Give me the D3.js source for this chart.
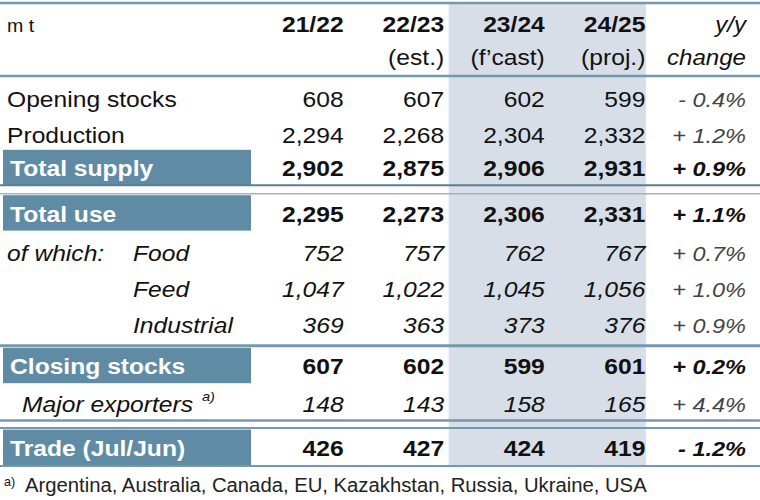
<!DOCTYPE html>
<html>
<head>
<meta charset="utf-8">
<script src="https://cdn.jsdelivr.net/npm/d3@7"></script>
<style>
  body { margin: 0; background: #fff; }
  text { font-family: "Liberation Sans", Arial, sans-serif; fill: #111; }
</style>
</head>
<body>
<svg id="table" width="760" height="500"></svg>
<script>
// column headers
var seasons = ["21/22", "22/23", "23/24", "24/25"],
    seasonNotes = ["", "(est.)", "(f\u2019cast)", "(proj.)"];

// rows
var rowLabels = ["Opening stocks", "Production", "Total supply", "Total use",
                 "Food", "Feed", "Industrial", "Closing stocks",
                 "Major exporters", "Trade (Jul/Jun)"];

var v2122 = [608, 2294, 2902, 2295, 752, 1047, 369, 607, 148, 426],
    v2223 = [607, 2268, 2875, 2273, 757, 1022, 363, 602, 143, 427],
    v2324 = [602, 2304, 2906, 2306, 762, 1045, 373, 599, 158, 424],
    v2425 = [599, 2332, 2931, 2331, 767, 1056, 376, 601, 165, 419],
    yoyChange = [-0.4, 1.2, 0.9, 1.1, 0.7, 1.0, 0.9, 0.2, 4.4, -1.2];

var footnote = "Argentina, Australia, Canada, EU, Kazakhstan, Russia, Ukraine, USA";

// how each row is drawn
var kind = ["plain", "plain", "total", "total", "sub", "sub", "sub", "total", "ital", "total"],
    gapBefore = [0, 0, 0, 9, 0, 0, 0, 7, 0, 9],
    baseShift = {plain: 31, total: 27.5, sub: 30, ital: 29};

var svg = d3.select("#table"),
    blue = "#5f8ba5",
    rule = "#7498ad",
    shade = "#d7dee7",
    sx = 1.12,
    rowH = 36.4,
    headTop = 76;

var values = [v2122, v2223, v2324, v2425];

var x = d3.scaleBand()
    .domain(["s0", "s1", "s2", "s3", "yoy"])
    .range([247, 750]);

var yi = d3.scaleLinear().domain([0, 1]).range([headTop, headTop + rowH]);
var offset = d3.cumsum(gapBefore);
function rowTop(i) { return yi(i) + offset[i]; }
var tableBottom = rowTop(rowLabels.length - 1) + rowH + 1;

var fmt = d3.format(","),
    pct = function(v) { return (v < 0 ? "- " : "+ ") + d3.format(".1f")(Math.abs(v)) + "%"; };

// shaded forecast columns
svg.append("rect")
    .attr("x", x("s2") + 0.5)
    .attr("y", 3)
    .attr("width", x("s3") + x.bandwidth() - x("s2") - 4)
    .attr("height", tableBottom - 3)
    .attr("fill", shade);

// blue label boxes
var boxRows = d3.range(rowLabels.length).filter(function(i) { return kind[i] === "total"; });
svg.selectAll(".box")
  .data(boxRows)
  .enter().append("rect")
    .attr("class", "box")
    .attr("x", 3)
    .attr("y", function(i) { return rowTop(i) + 1; })
    .attr("width", 248)
    .attr("height", rowH - 1)
    .attr("fill", blue);

// horizontal rules
var rules = [
  {y: 3, w: 2.5, c: rule},
  {y: headTop, w: 2.5, c: rule},
  {y: rowTop(2) + rowH, w: 2, c: "#5a7f95"},
  {y: rowTop(3) - 0.5, w: 1.5, c: "#9db5c4"},
  {y: rowTop(7) - 1, w: 3, c: rule},
  {y: rowTop(8) + rowH + 1, w: 2.5, c: rule},
  {y: rowTop(9) - 0.5, w: 2, c: rule},
  {y: tableBottom, w: 2, c: rule}
];
svg.selectAll(".rule")
  .data(rules)
  .enter().append("line")
    .attr("class", "rule")
    .attr("x1", 0).attr("x2", 760)
    .attr("y1", function(d) { return d.y; })
    .attr("y2", function(d) { return d.y; })
    .attr("stroke", function(d) { return d.c; })
    .attr("stroke-width", function(d) { return d.w; });

function put(g, px, py, str, opts) {
  opts = opts || {};
  return g.append("text")
      .attr("transform", "translate(" + px + "," + py + ") scale(" + (opts.sx || sx) + ",1)")
      .attr("text-anchor", opts.anchor || "start")
      .style("font-size", (opts.size || 22) + "px")
      .style("font-weight", opts.bold ? "bold" : "normal")
      .style("font-style", opts.italic ? "italic" : "normal")
      .style("fill", opts.fill || "#111")
      .text(str);
}

function right(key) { return x(key) + x.bandwidth() - 4; }

// header
var head = svg.append("g");
put(head, 7, 32, "m t", {size: 17.5});
seasons.forEach(function(s, j) {
  put(head, right("s" + j), 32, s, {anchor: "end", bold: true});
  if (seasonNotes[j]) put(head, right("s" + j), 65, seasonNotes[j], {anchor: "end"});
});
put(head, right("yoy"), 32, "y/y", {anchor: "end", italic: true, size: 21.5});
put(head, right("yoy"), 65, "change", {anchor: "end", italic: true, size: 21.5});

// body
var body = svg.append("g");
rowLabels.forEach(function(label, i) {
  var k = kind[i],
      base = rowTop(i) + baseShift[k],
      bold = k === "total",
      italic = k === "sub" || k === "ital";

  if (k === "total") {
    put(body, 10, base, label, {bold: true, fill: "#fff"});
  } else if (k === "sub") {
    if (label === "Food") put(body, 7, base, "of which:", {italic: true});
    put(body, 133, base, label, {italic: true});
  } else if (k === "ital") {
    var t = put(body, 22, base, label, {italic: true});
    t.append("tspan")
        .attr("dx", 8)
        .attr("dy", -11)
        .style("font-size", "13px")
        .text("a)");
  } else {
    put(body, 7, base, label);
  }

  values.forEach(function(col, j) {
    put(body, right("s" + j), base, fmt(col[i]), {anchor: "end", bold: bold, italic: italic});
  });

  put(body, right("yoy"), base, pct(yoyChange[i]), {
    anchor: "end", italic: true, bold: bold, size: 21,
    fill: bold ? "#111" : "#444"
  });
});

// footnote
var foot = svg.append("g");
put(foot, 4, 486, "a)", {size: 12, sx: 1.05});
put(foot, 25, 492, footnote, {size: 19.5, sx: 1.04, fill: "#222"});
</script>
</body>
</html>
